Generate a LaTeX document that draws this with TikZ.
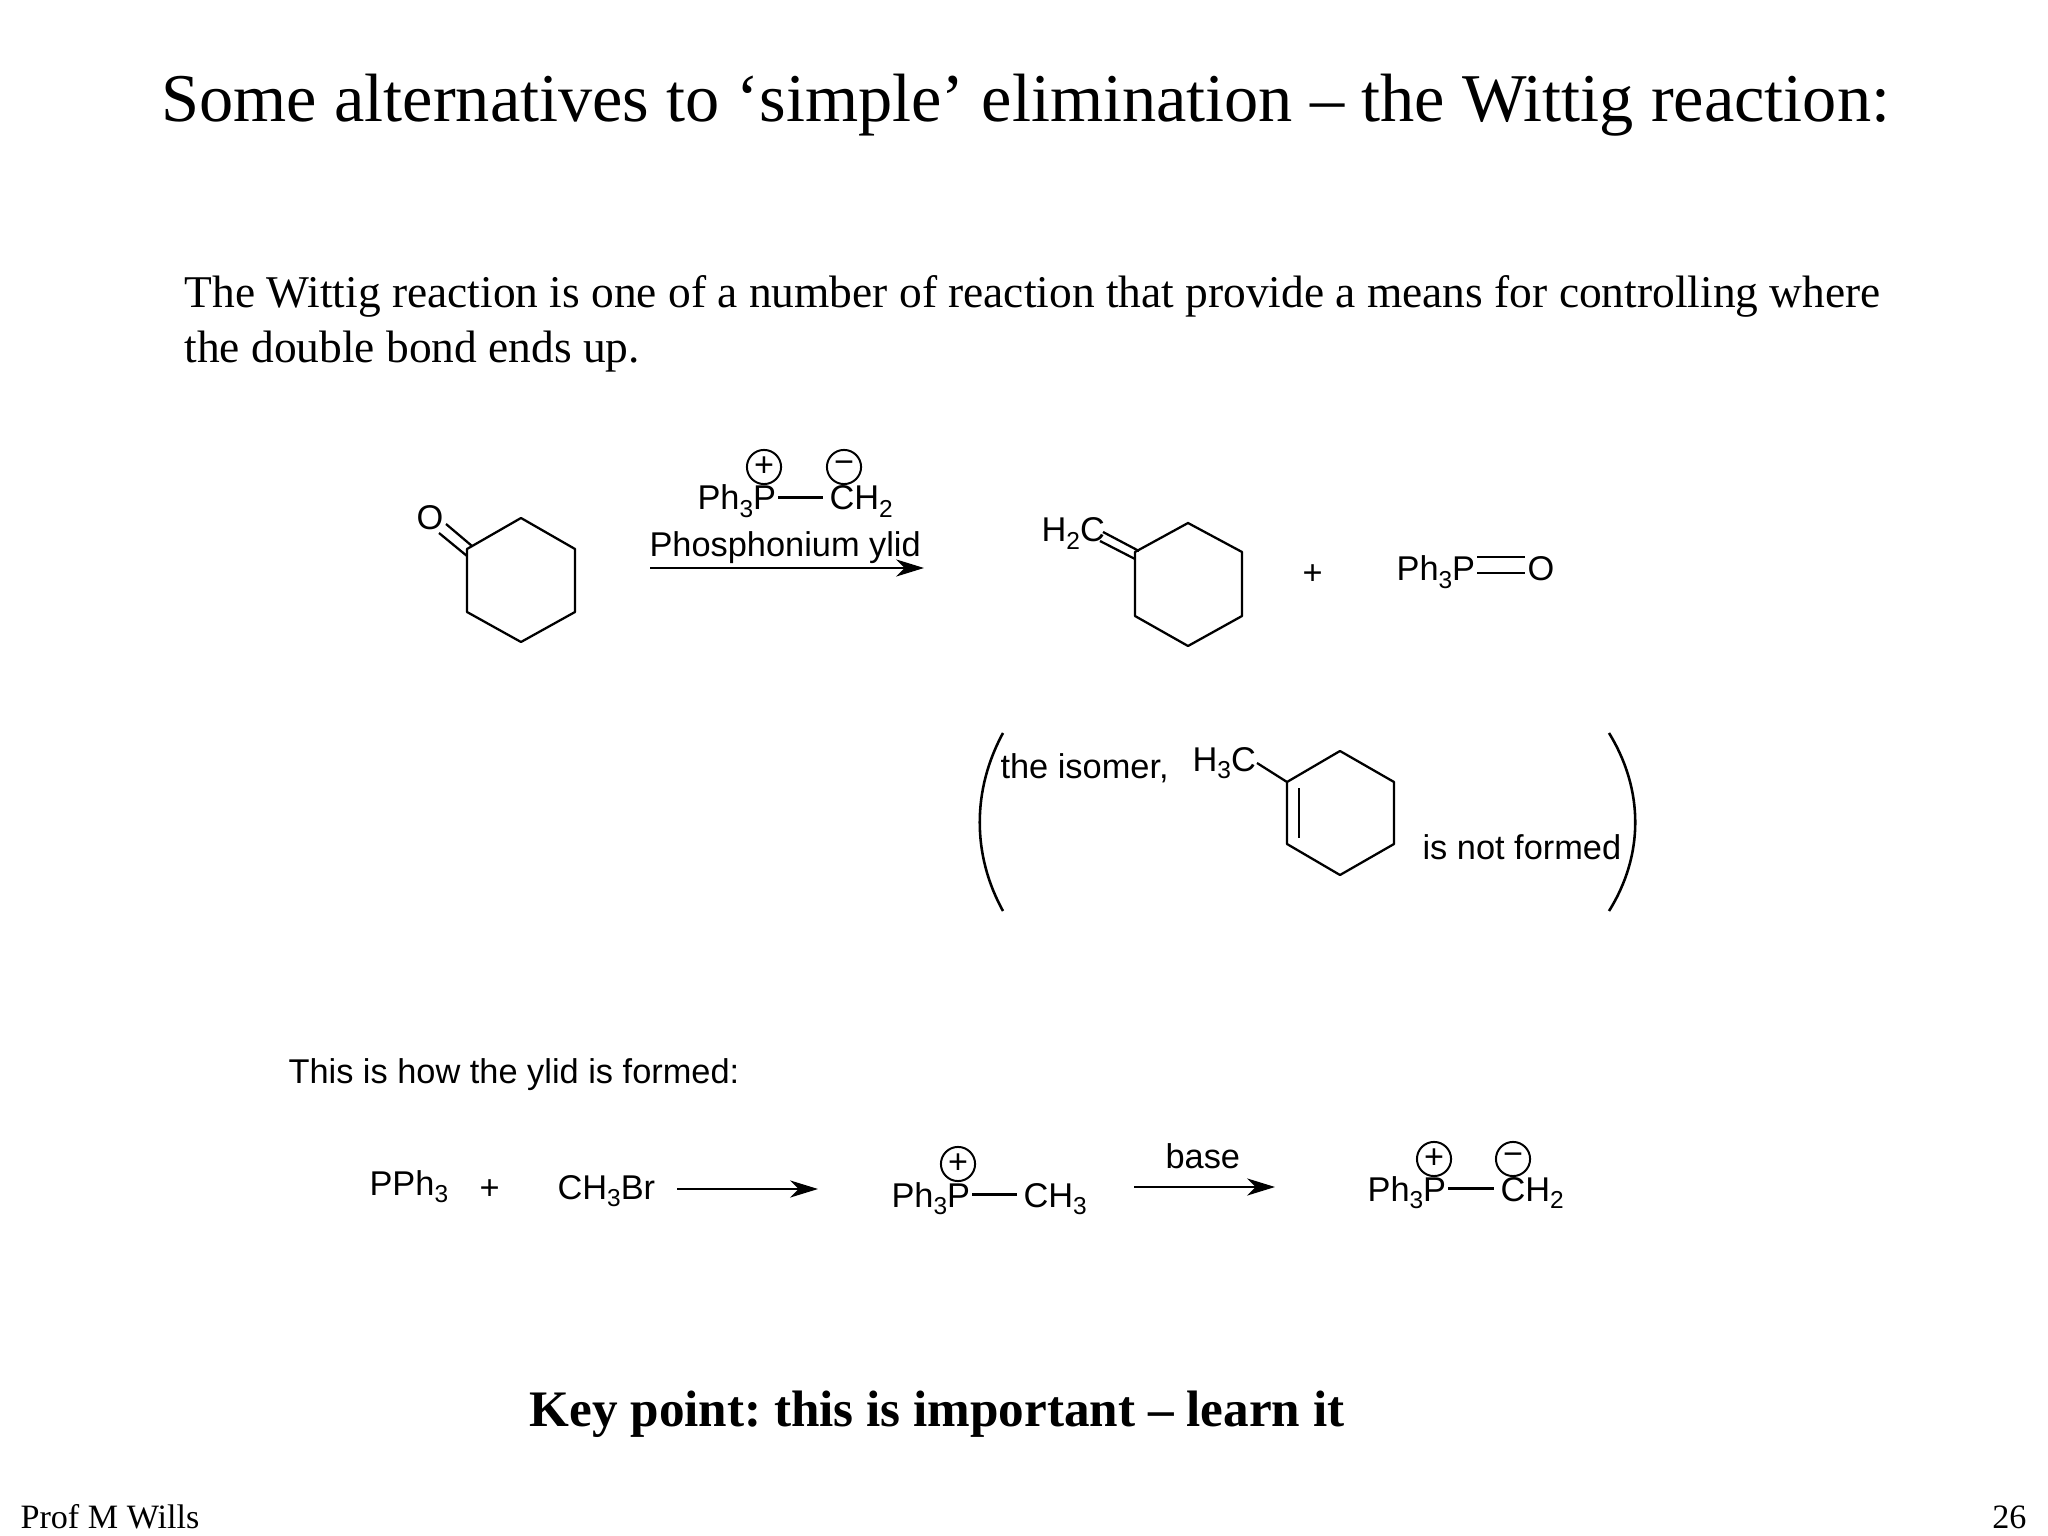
\documentclass[tikz,border=0pt]{standalone}
\usepackage{fontspec}
\setmainfont{Liberation Serif}
\newfontfamily\chemfont{Liberation Sans}
\usetikzlibrary{arrows.meta}
\frenchspacing
\newcommand{\chemsub}[1]{\raisebox{-2.6pt}{\fontsize{8.6}{10}\selectfont #1}}
\tikzset{
  chem/.style={font=\chemfont\fontsize{12.08}{14}\selectfont, inner sep=0pt, text height=8.6pt, text depth=0pt, anchor=base west},
  chg/.style={draw, circle, line width=0.7pt, inner sep=0pt, minimum size=12pt, font=\chemfont\fontsize{12}{14}\selectfont},
  bond/.style={line width=0.8pt},
  pbond/.style={line width=1pt, shorten <=0.5pt, shorten >=2pt},
  rxn/.style={line width=1pt, -{Stealth[length=9.8pt, width=6pt, inset=3pt]}},
  serif/.style={inner sep=0pt, anchor=base west}
}
\begin{document}
\begin{tikzpicture}[x=0.3515625pt, y=-0.3515625pt]
      \useasboundingbox (0,0) rectangle (2048,1536);
      \draw
        (161,122) node[serif, font=\fontsize{24.03}{28}\selectfont] (title){Some alternatives to ‘simple’ elimination – the Wittig reaction:}
        (184,308) node[serif, font=\fontsize{15.97}{19}\selectfont] (introa){The Wittig reaction is one of a number of reaction that provide a means for controlling where}
        (184,363) node[serif, font=\fontsize{15.97}{19}\selectfont] (introb){the double bond ends up.}
        (529,1426) node[serif, font=\bfseries\fontsize{18}{22}\selectfont] (key){Key point: this is important – learn it}
        (20,1528) node[serif, font=\fontsize{12}{14}\selectfont] (prof){Prof M Wills}
        (2027,1528) node[serif, anchor=base east, font=\fontsize{12}{14}\selectfont] (page){26};
      \draw
        (416,530) node[chem] (oxa){O}
        (697,510) node[chem] (yaP){Ph\chemsub{3}P}
        (829,510) node[chem] (yaC){CH\chemsub{2}}
        (649,557) node[chem] (ylid){Phosphonium ylid}
        (1041,542) node[chem] (meth){H\chemsub{2}C}
        (1302,585) node[chem] (plusa){+}
        (1396,581) node[chem] (poP){Ph\chemsub{3}P}
        (1527,581) node[chem] (poO){O}
        (1000,778) node[chem] (isomer){the isomer,}
        (1192,771) node[chem] (mecap){H\chemsub{3}C}
        (1422,859) node[chem] (notf){is not formed}
        (288,1083) node[chem] (howto){This is how the ylid is formed:}
        (369,1195) node[chem] (pph){PPh\chemsub{3}}
        (479,1199) node[chem] (plusb){+}
        (557,1199) node[chem] (mebr){CH\chemsub{3}Br}
        (891,1207) node[chem] (saP){Ph\chemsub{3}P}
        (1023,1207) node[chem] (saC){CH\chemsub{3}}
        (1165,1168) node[chem] (base){base}
        (1367,1201) node[chem] (ybP){Ph\chemsub{3}P}
        (1500,1201) node[chem] (ybC){CH\chemsub{2}};
      \draw
        (764,467) node[chg] (chga){+}
        (844,467) node[chg] (chgb){−}
        (958,1164) node[chg] (chgc){+}
        (1434,1159) node[chg] (chgd){+}
        (1513,1159) node[chg] (chge){−};
      \draw
        (521,518) coordinate (ka) (575,549) coordinate (kb) (575,612) coordinate (kc)
        (521,642) coordinate (kd) (467,612) coordinate (ke) (467,549) coordinate (kf)
        (1188,523) coordinate (ma) (1242,552) coordinate (mb) (1242,616) coordinate (mc)
        (1188,646) coordinate (md) (1135,616) coordinate (me) (1135,552) coordinate (mf)
        (1340,751) coordinate (ia) (1394,782) coordinate (ib) (1394,844) coordinate (ic)
        (1340,875) coordinate (id) (1287,844) coordinate (ie) (1287,782) coordinate (if)
        (446,524) coordinate (oa) (472,546) coordinate (ob)
        (439,533) coordinate (oc) (467,556) coordinate (od)
        (1103,532) coordinate (ca) (1139,551) coordinate (cb)
        (1100,541) coordinate (cc) (1135,559) coordinate (cd)
        (1299,788) coordinate (ga) (1299,838) coordinate (gb)
        (1257,763) coordinate (ha)
        (1477,557) coordinate (pa) (1525,557) coordinate (pb)
        (1477,573) coordinate (pc) (1525,573) coordinate (pd)
        (650,568) coordinate (ra) (924,568) coordinate (rb)
        (677,1189) coordinate (sa) (818,1189) coordinate (sb)
        (1134,1187) coordinate (ta) (1275,1187) coordinate (tb);
      \begin{scope}[bond]
        \draw[line join=round] (ka) -- (kb) -- (kc) -- (kd) -- (ke) -- (kf) -- cycle;
        \draw[line join=round] (ma) -- (mb) -- (mc) -- (md) -- (me) -- (mf) -- cycle;
        \draw[line join=round] (ia) -- (ib) -- (ic) -- (id) -- (ie) -- (if) -- cycle;
        \draw (oa) to (ob);
        \draw (oc) to (od);
        \draw (ca) to (cb);
        \draw (cc) to (cd);
        \draw (ga) to (gb);
        \draw (ha) to (if);
        \draw[line width=1pt] (pa) to (pb);
        \draw[line width=1pt] (pc) to (pd);
      \end{scope}
      \draw[pbond] (yaP.east) to (yaC.west);
      \draw[pbond] (saP.east) to (saC.west);
      \draw[pbond] (ybP.east) to (ybC.west);
      \draw[rxn] (ra) to (rb);
      \draw[rxn] (sa) to (sb);
      \draw[rxn] (ta) to (tb);
      \draw[line width=0.9pt] (1003,733) .. controls (972,790) and (972,855) .. (1003,911);
      \draw[line width=0.9pt] (1609,733) .. controls (1644,790) and (1644,855) .. (1609,911);
    \end{tikzpicture}
\end{document}
